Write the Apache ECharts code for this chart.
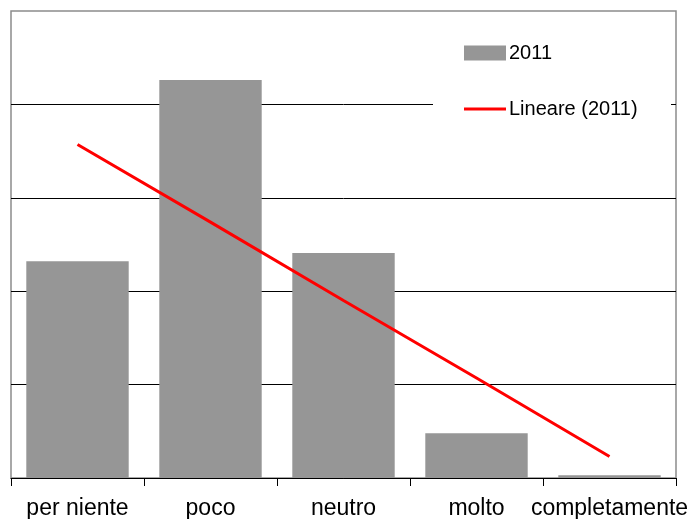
<!DOCTYPE html>
<html>
<head>
<meta charset="utf-8">
<script src="https://cdn.jsdelivr.net/npm/echarts@6/dist/echarts.min.js"></script>
<style>
  html, body { margin: 0; padding: 0; background: #fff; }
  #chart { width: 696px; height: 519px; }
</style>
</head>
<body>
<div id="chart"></div>
<script>
// Response categories
const categories = ['per niente', 'poco', 'neutro', 'molto', 'completamente'];
// 2011 values (%)
const values2011 = [23.2, 42.6, 24.1, 4.8, 0.3];
// Linear trend line "Lineare (2011)" at each category
const trendValues = [35.7, 27.4, 19.0, 10.7, 2.3];

const chart = echarts.init(document.getElementById('chart'), null, { renderer: 'canvas' });

chart.setOption({
  animation: false,
  backgroundColor: '#ffffff',
  textStyle: { fontFamily: 'Liberation Sans, Arial, sans-serif' },
  grid: {
    left: 11, top: 11, right: 20, bottom: 41,
    outerBoundsMode: 'none',
    containLabel: false,
    show: true, borderColor: '#8c8c8c', borderWidth: 1.5, backgroundColor: 'transparent'
  },
  graphic: [{
    type: 'rect', z: 5,
    shape: { x: 433, y: 22, width: 238, height: 108 },
    style: { fill: '#ffffff' }
  }],
  legend: [{
    data: [{ name: '2011', icon: 'rect' }],
    orient: 'vertical', left: 464, top: 43, z: 6,
    itemWidth: 42, itemHeight: 15, itemGap: 0,
    textStyle: { fontSize: 20, color: '#000', padding: [0, 0, 2, -2] },
    padding: 0, selectedMode: false
  }, {
    data: [{ name: 'Lineare (2011)', icon: 'rect' }],
    orient: 'vertical', left: 464, top: 99, z: 6,
    itemWidth: 42, itemHeight: 3, itemGap: 0,
    textStyle: { fontSize: 20, color: '#000', padding: [0, 0, 3, -2] },
    padding: 0, selectedMode: false
  }],
  xAxis: {
    type: 'category',
    data: categories,
    boundaryGap: true,
    axisLine: { show: true, lineStyle: { color: '#000', width: 1 } },
    axisTick: { show: true, length: 8, lineStyle: { color: '#000' } },
    axisLabel: { color: '#000', fontSize: 23, margin: 19, interval: 0 },
    splitLine: { show: false }
  },
  yAxis: {
    type: 'value',
    min: 0, max: 50, interval: 10,
    axisLine: { show: false },
    axisTick: { show: false },
    axisLabel: { show: false },
    // the top line is left to the grey plot border
    splitLine: { show: true, lineStyle: { color: ['#000', '#000', '#000', '#000', '#000', 'rgba(0,0,0,0)'], width: 1 } }
  },
  series: [{
    name: '2011',
    type: 'bar',
    data: values2011,
    barCategoryGap: '23%',
    itemStyle: { color: '#969696' }
  }, {
    name: 'Lineare (2011)',
    type: 'line',
    data: trendValues,
    symbol: 'none',
    lineStyle: { color: '#ff0000', width: 3 },
    itemStyle: { color: '#ff0000' },
    z: 10
  }]
});
</script>
</body>
</html>
